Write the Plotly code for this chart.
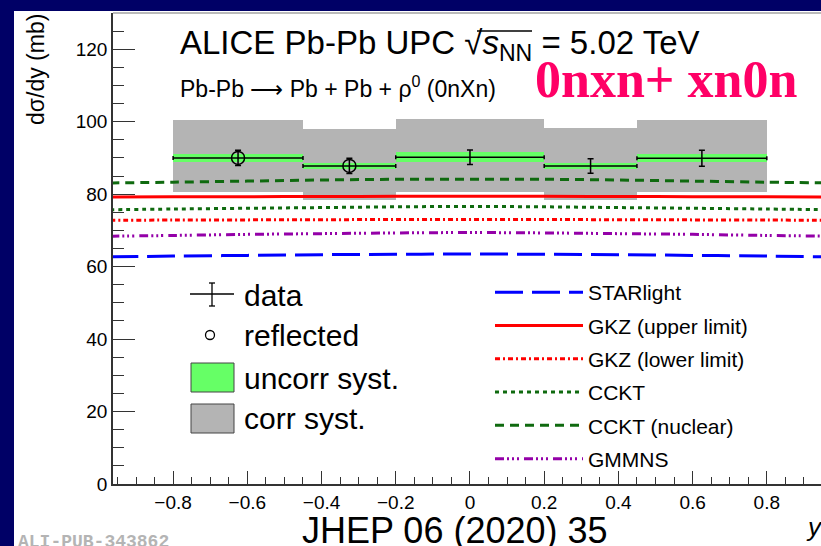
import plotly.graph_objects as go

# ---------------- data ----------------
bin_lo = [-0.80, -0.45, -0.20, 0.20, 0.45]
bin_hi = [-0.45, -0.20, 0.20, 0.45, 0.80]
xsec = [90.0, 87.8, 90.2, 87.8, 89.9]          # dsigma/dy (mb)
stat_err = [2.1, 2.1, 2.0, 2.0, 2.2]
uncorr_syst = [1.1, 0.8, 1.3, 0.9, 1.1]
corr_up = [10.4, 10.3, 10.5, 10.5, 10.5]
corr_dn = [9.3, 9.3, 9.6, 9.5, 9.4]
reflected = [True, True, False, False, False]

model_rap = [-0.97, -0.8, -0.6, -0.4, -0.2, 0.0, 0.2, 0.4, 0.6, 0.8, 0.97]
starlight = [62.7, 62.9, 63.1, 63.3, 63.4, 63.5, 63.4, 63.3, 63.1, 62.9, 62.7]
gkz_upper = [79.2, 79.25, 79.3, 79.35, 79.4, 79.4, 79.4, 79.35, 79.3, 79.25, 79.2]
gkz_lower = [72.8, 72.85, 72.9, 72.95, 73.0, 73.0, 73.0, 72.95, 72.9, 72.85, 72.8]
cckt = [75.7, 75.9, 76.1, 76.3, 76.5, 76.6, 76.5, 76.3, 76.1, 75.9, 75.7]
cckt_nuclear = [83.1, 83.3, 83.6, 83.9, 84.1, 84.1, 84.1, 83.9, 83.6, 83.3, 83.1]
gmmns = [68.4, 68.6, 68.9, 69.1, 69.3, 69.4, 69.3, 69.1, 68.9, 68.6, 68.4]

x_ticks = [-0.8, -0.6, -0.4, -0.2, 0, 0.2, 0.4, 0.6, 0.8]
y_ticks = [0, 20, 40, 60, 80, 100, 120]

# ---------------- layout helpers ----------------
L, T, W, H = 113, 13, 708, 471
FIG_W, FIG_H = 821, 546


def px(x):
    return (x - L) / W


def py(y):
    return (T + H - y) / H


SANS = "Liberation Sans, Arial, Helvetica, sans-serif"

centers = [(a + b) / 2 for a, b in zip(bin_lo, bin_hi)]
widths = [b - a for a, b in zip(bin_lo, bin_hi)]
half_w = [w / 2 for w in widths]

fig = go.Figure()

# correlated systematics (gray boxes)
fig.add_trace(go.Bar(
    x=centers, width=widths,
    base=[v - d for v, d in zip(xsec, corr_dn)],
    y=[u + d for u, d in zip(corr_up, corr_dn)],
    marker=dict(color="#b4b4b4", line=dict(width=0)),
    showlegend=False, name="corr syst.", hoverinfo="skip"))

# uncorrelated systematics (green boxes)
fig.add_trace(go.Bar(
    x=centers, width=widths,
    base=[v - u for v, u in zip(xsec, uncorr_syst)],
    y=[2 * u for u in uncorr_syst],
    marker=dict(color="#66ff66", line=dict(width=0)),
    showlegend=False, name="uncorr syst.", hoverinfo="skip"))

models = [
    ("STARlight", starlight, "#0000ff", "28px,9px"),
    ("GKZ (upper limit)", gkz_upper, "#ff0000", "solid"),
    ("GKZ (lower limit)", gkz_lower, "#ff0000", "5px,3px,2px,3px"),
    ("CCKT", cckt, "#0f6a0f", "4px,4px"),
    ("CCKT (nuclear)", cckt_nuclear, "#0f6a0f", "9px,6px"),
    ("GMMNS", gmmns, "#9400a8", "9px,3px,2px,3px,2px,3px,2px,5px"),
]
for name, vals, col, dash in models:
    fig.add_trace(go.Scatter(
        x=model_rap, y=vals, mode="lines", name=name, legendgroup=name,
        line=dict(color=col, width=3, dash=dash, shape="spline"),
        hoverinfo="skip"))

# data points with stat errors
fig.add_trace(go.Scatter(
    x=centers, y=xsec, mode="markers",
    marker=dict(size=1, color="black"),
    error_x=dict(type="data", array=half_w, color="black", thickness=1.5, width=2),
    error_y=dict(type="data", array=stat_err, color="black", thickness=1.5, width=3),
    showlegend=False, name="data"))

# reflected points
fig.add_trace(go.Scatter(
    x=[c for c, r in zip(centers, reflected) if r],
    y=[v for v, r in zip(xsec, reflected) if r],
    mode="markers",
    marker=dict(symbol="circle-open", size=13, color="black", line=dict(width=1.5)),
    showlegend=False, name="reflected"))

shapes = [
    # white slide area over navy background
    dict(type="rect", xref="paper", yref="paper", x0=px(14), x1=px(840),
         y0=py(560), y1=py(11), fillcolor="white", line=dict(width=0), layer="below"),
    # top frame
    dict(type="line", xref="paper", yref="paper", x0=0, x1=1, y0=1, y1=1,
         line=dict(color="#777777", width=1.2)),
    # sqrt overline
    dict(type="line", xref="paper", yref="paper", x0=px(477), x1=px(532),
         y0=py(31), y1=py(31), line=dict(color="black", width=1.6)),
    # left legend: data cross
    dict(type="line", xref="paper", yref="paper", x0=px(190), x1=px(234),
         y0=py(294), y1=py(294), line=dict(color="black", width=1.3)),
    dict(type="line", xref="paper", yref="paper", x0=px(212), x1=px(212),
         y0=py(283), y1=py(306), line=dict(color="black", width=1.3)),
    dict(type="line", xref="paper", yref="paper", x0=px(209), x1=px(215),
         y0=py(283), y1=py(283), line=dict(color="black", width=1.3)),
    dict(type="line", xref="paper", yref="paper", x0=px(209), x1=px(215),
         y0=py(306), y1=py(306), line=dict(color="black", width=1.3)),
    # reflected circle
    dict(type="circle", xref="paper", yref="paper", x0=px(205.5), x1=px(214.5),
         y0=py(339.5), y1=py(330.5), line=dict(color="black", width=1.3)),
    # uncorr box
    dict(type="rect", xref="paper", yref="paper", x0=px(191), x1=px(234),
         y0=py(392), y1=py(363), fillcolor="#66ff66", line=dict(color="#444444", width=1)),
    # corr box
    dict(type="rect", xref="paper", yref="paper", x0=px(191), x1=px(234),
         y0=py(433), y1=py(404), fillcolor="#b4b4b4", line=dict(color="#444444", width=1)),
]

annotations = [
    dict(text="dσ/dy (mb)", xref="paper", yref="paper", x=px(36), y=py(70),
         xanchor="center", yanchor="middle", textangle=-90, showarrow=False,
         font=dict(family=SANS, size=23, color="black")),
    dict(text="ALICE Pb-Pb UPC √<i>s</i><sub>NN</sub> = 5.02 TeV", xref="paper", yref="paper",
         x=px(178), y=py(45), xanchor="left", yanchor="middle", showarrow=False,
         font=dict(family=SANS, size=33, color="black")),
    dict(text="Pb-Pb ⟶ Pb + Pb + ρ<sup>0</sup> (0nXn)", xref="paper", yref="paper",
         x=px(178), y=py(87), xanchor="left", yanchor="middle", showarrow=False,
         font=dict(family=SANS, size=23, color="black")),
    dict(text="<b>0nxn+ xn0n</b>", xref="paper", yref="paper",
         x=px(666), y=py(80), xanchor="center", yanchor="middle", showarrow=False,
         font=dict(family="Liberation Serif, Times New Roman, serif", size=52, color="#ff0066")),
    dict(text="data", xref="paper", yref="paper", x=px(242), y=py(295),
         xanchor="left", yanchor="middle", showarrow=False,
         font=dict(family=SANS, size=30, color="black")),
    dict(text="reflected", xref="paper", yref="paper", x=px(242), y=py(335),
         xanchor="left", yanchor="middle", showarrow=False,
         font=dict(family=SANS, size=30, color="black")),
    dict(text="uncorr syst.", xref="paper", yref="paper", x=px(242), y=py(378),
         xanchor="left", yanchor="middle", showarrow=False,
         font=dict(family=SANS, size=30, color="black")),
    dict(text="corr syst.", xref="paper", yref="paper", x=px(242), y=py(418),
         xanchor="left", yanchor="middle", showarrow=False,
         font=dict(family=SANS, size=30, color="black")),
    dict(text="<i>y</i>", xref="paper", yref="paper", x=px(814), y=py(527),
         xanchor="center", yanchor="middle", showarrow=False,
         font=dict(family=SANS, size=26, color="black")),
    dict(text="JHEP 06 (2020) 35", xref="paper", yref="paper", x=px(455), y=py(530),
         xanchor="center", yanchor="middle", showarrow=False,
         font=dict(family=SANS, size=36, color="black")),
    dict(text="<b>ALI-PUB-343862</b>", xref="paper", yref="paper", x=px(16), y=py(542),
         xanchor="left", yanchor="middle", showarrow=False,
         font=dict(family="Liberation Mono, Courier New, monospace", size=18, color="#b4b4b4")),
]

fig.update_layout(
    width=FIG_W, height=FIG_H,
    margin=dict(l=L, r=FIG_W - L - W, t=T, b=FIG_H - T - H, pad=0),
    paper_bgcolor="#000066", plot_bgcolor="white",
    barmode="overlay", bargap=0,
    shapes=shapes, annotations=annotations,
    showlegend=True,
    legend=dict(x=px(490), y=py(272), xanchor="left", yanchor="top",
                font=dict(family=SANS, size=21, color="black"),
                itemwidth=88, tracegroupgap=3, bgcolor="rgba(0,0,0,0)",
                borderwidth=0),
    xaxis=dict(range=[-0.962, 0.946], tickvals=x_ticks, showgrid=False, zeroline=False,
               showline=True, linecolor="#333333", linewidth=1.5,
               ticks="inside", ticklen=13, tickwidth=1.2, tickcolor="#333333",
               minor=dict(dtick=0.05, tick0=0, ticks="inside", ticklen=7,
                          tickwidth=1.2, tickcolor="#333333", showgrid=False),
               tickfont=dict(family=SANS, size=19, color="black")),
    yaxis=dict(range=[0, 130], tickvals=y_ticks, showgrid=False, zeroline=False,
               showline=True, linecolor="#333333", linewidth=1.5,
               ticks="inside", ticklen=22, tickwidth=1.2, tickcolor="#333333",
               minor=dict(dtick=5, tick0=0, ticks="inside", ticklen=11,
                          tickwidth=1.2, tickcolor="#333333", showgrid=False),
               tickfont=dict(family=SANS, size=19, color="black")),
)

fig.write_html("out.html")
